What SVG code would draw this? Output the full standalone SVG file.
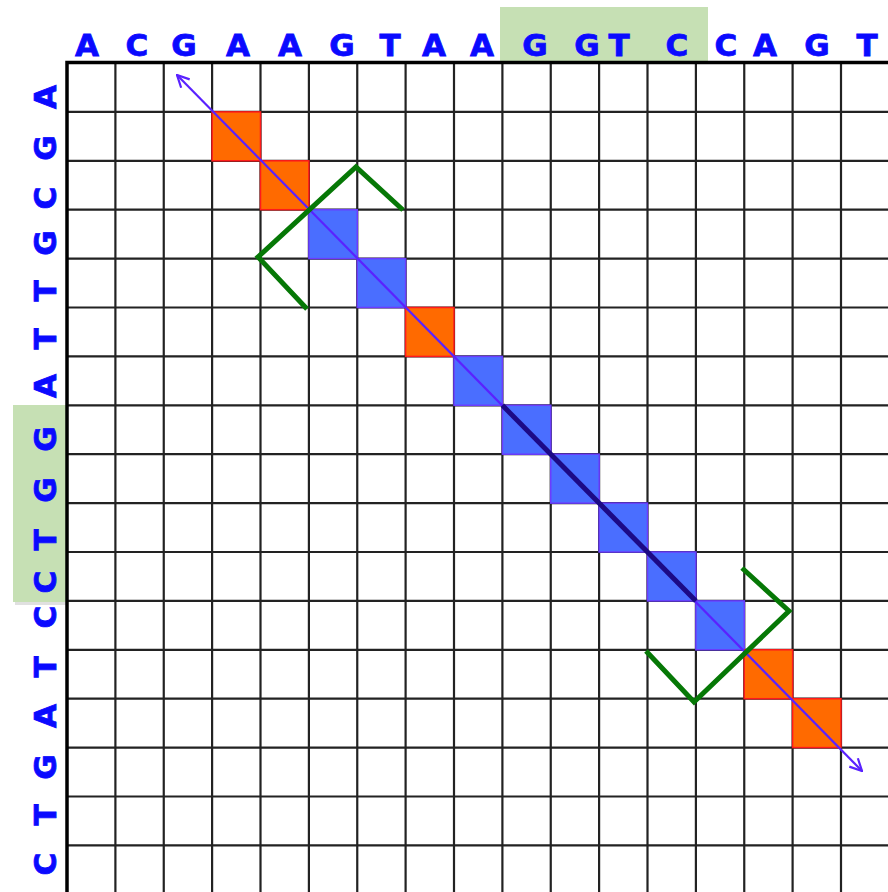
<svg xmlns="http://www.w3.org/2000/svg" width="888" height="892" viewBox="0 0 888 892">
<style>
.lbl{font-family:"DejaVu Sans","Liberation Sans",sans-serif;font-weight:bold;font-size:31px;fill:#0a0aff;stroke:#0a0aff;stroke-width:0.8;text-anchor:middle}
.gl{stroke:#222;stroke-width:2.2;fill:none}
.bd{stroke:#000;stroke-width:3.5;fill:none}
.or{fill:#ff6a00;stroke:#ff1a1a;stroke-width:1.5}
.bl{fill:#4a6eff;stroke:#6a3cff;stroke-width:1.5}
.hl{fill:#c6e0b4}
.br{fill:none;stroke:#067806;stroke-width:5;stroke-linejoin:miter}
</style>
<defs>
<marker id="ah" viewBox="0 0 14 14" refX="13" refY="7" markerWidth="14" markerHeight="14" markerUnits="userSpaceOnUse" orient="auto-start-reverse">
<path d="M1,1 L13,7 L1,13" fill="none" stroke="#5a22ff" stroke-width="2.2"/>
</marker>
</defs>
<rect width="888" height="892" fill="#fff"/>
<g id="highlights">
<rect class="hl" x="500" y="7" width="208" height="54"/>
<rect x="15" y="408" width="52" height="197" fill="#000" opacity="0.12"/>
<rect class="hl" x="13" y="405" width="53" height="197"/>
</g>
<g id="grid">
<path class="gl" d="M115.4,63V892M163.75,63V892M212.1,63V892M260.5,63V892M308.9,63V892M357.25,63V892M405.6,63V892M454,63V892M502.4,63V892M550.75,63V892M599.1,63V892M647.5,63V892M695.9,63V892M744.25,63V892M792.6,63V892M841,63V892"/>
<path class="gl" d="M67,111.9H888M67,160.8H888M67,209.7H888M67,258.6H888M67,307.5H888M67,356.4H888M67,405.3H888M67,454.2H888M67,503.1H888M67,552H888M67,600.9H888M67,649.8H888M67,698.7H888M67,747.6H888M67,796.5H888M67,845.4H888"/>
<path class="bd" d="M67,892V62.5H888"/>
</g>
<g id="cells">
<rect class="or" x="212.1" y="111.9" width="48.4" height="48.9"/>
<rect class="or" x="260.5" y="160.8" width="48.4" height="48.9"/>
<rect class="bl" x="308.9" y="209.7" width="48.4" height="48.9"/>
<rect class="bl" x="357.25" y="258.6" width="48.4" height="48.9"/>
<rect class="or" x="405.6" y="307.5" width="48.4" height="48.9"/>
<rect class="bl" x="454" y="356.4" width="48.4" height="48.9"/>
<rect class="bl" x="502.4" y="405.3" width="48.4" height="48.9"/>
<rect class="bl" x="550.75" y="454.2" width="48.4" height="48.9"/>
<rect class="bl" x="599.1" y="503.1" width="48.4" height="48.9"/>
<rect class="bl" x="647.5" y="552" width="48.4" height="48.9"/>
<rect class="bl" x="695.9" y="600.9" width="48.4" height="48.9"/>
<rect class="or" x="744.25" y="649.8" width="48.4" height="48.9"/>
<rect class="or" x="792.6" y="698.7" width="48.4" height="48.9"/>
</g>
<g id="top-labels">
<text class="lbl" x="87" y="56">A</text>
<text class="lbl" x="137" y="56">C</text>
<text class="lbl" x="184" y="56">G</text>
<text class="lbl" x="238" y="56">A</text>
<text class="lbl" x="290" y="56">A</text>
<text class="lbl" x="342" y="56">G</text>
<text class="lbl" x="390" y="56">T</text>
<text class="lbl" x="434" y="56">A</text>
<text class="lbl" x="482" y="56">A</text>
<text class="lbl" x="535" y="56">G</text>
<text class="lbl" x="587" y="56">G</text>
<text class="lbl" x="619" y="56">T</text>
<text class="lbl" x="677" y="56">C</text>
<text class="lbl" x="726" y="56">C</text>
<text class="lbl" x="765" y="56">A</text>
<text class="lbl" x="817" y="56">G</text>
<text class="lbl" x="867" y="56">T</text>
</g>
<g id="left-labels">
<text class="lbl" x="56" y="97" transform="rotate(-90 56 97)">A</text>
<text class="lbl" x="56" y="148" transform="rotate(-90 56 148)">G</text>
<text class="lbl" x="56" y="198" transform="rotate(-90 56 198)">C</text>
<text class="lbl" x="56" y="243" transform="rotate(-90 56 243)">G</text>
<text class="lbl" x="56" y="291" transform="rotate(-90 56 291)">T</text>
<text class="lbl" x="56" y="339" transform="rotate(-90 56 339)">T</text>
<text class="lbl" x="56" y="386" transform="rotate(-90 56 386)">A</text>
<text class="lbl" x="56" y="439" transform="rotate(-90 56 439)">G</text>
<text class="lbl" x="56" y="490" transform="rotate(-90 56 490)">G</text>
<text class="lbl" x="56" y="540" transform="rotate(-90 56 540)">T</text>
<text class="lbl" x="56" y="582" transform="rotate(-90 56 582)">C</text>
<text class="lbl" x="56" y="617" transform="rotate(-90 56 617)">C</text>
<text class="lbl" x="56" y="667" transform="rotate(-90 56 667)">T</text>
<text class="lbl" x="56" y="716" transform="rotate(-90 56 716)">A</text>
<text class="lbl" x="56" y="767" transform="rotate(-90 56 767)">G</text>
<text class="lbl" x="56" y="815" transform="rotate(-90 56 815)">T</text>
<text class="lbl" x="56" y="864" transform="rotate(-90 56 864)">C</text>
</g>
<g id="connectors">
<line x1="177" y1="75" x2="862" y2="771" stroke="#5a22ff" stroke-width="2.2" marker-start="url(#ah)" marker-end="url(#ah)"/>
<line x1="502.4" y1="405.3" x2="695.9" y2="600.9" stroke="#1c0a86" stroke-width="5"/>
<polyline class="br" points="403,210 356,167 258,257 307,309"/>
<polyline class="br" points="742,568 789,611 694,702 646,651"/>
</g>
</svg>
